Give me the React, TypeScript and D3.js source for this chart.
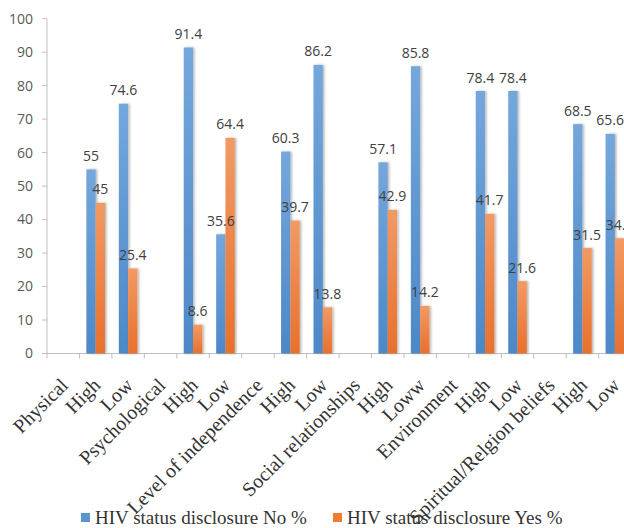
import React, { useEffect, useRef } from 'react';
import * as d3 from 'd3';

const categories = [
  'Physical', 'High', 'Low',
  'Psychological', 'High', 'Low',
  'Level of independence', 'High', 'Low',
  'Social relationships', 'High', 'Loww',
  'Environment', 'High', 'Low',
  'Spiritual/Relgion beliefs', 'High', 'Low',
];
// null = group header row, no bars
const disclosureNo: (number | null)[] = [
  null, 55, 74.6, null, 91.4, 35.6, null, 60.3, 86.2,
  null, 57.1, 85.8, null, 78.4, 78.4, null, 68.5, 65.6,
];
const disclosureYes: (number | null)[] = [
  null, 45, 25.4, null, 8.6, 64.4, null, 39.7, 13.8,
  null, 42.9, 14.2, null, 41.7, 21.6, null, 31.5, 34.4,
];
const seriesNames = ['HIV status disclosure No %', 'HIV status disclosure Yes %'];
const yTicks = [0, 10, 20, 30, 40, 50, 60, 70, 80, 90, 100];

const width = 624;
const height = 528;

const App: React.FC = () => {
  const svgRef = useRef<SVGSVGElement>(null);

  useEffect(() => {
    const svg = d3.select(svgRef.current);
    svg.selectAll('*').remove();

    const x0 = 47;
    const band = 32.45;
    const yTop = 18.7;
    const yBottom = 353.5;

    const xScale = d3.scaleBand<number>()
      .domain(categories.map((_, i) => i))
      .range([x0, x0 + band * categories.length])
      .padding(0);

    const yScale = d3.scaleLinear().domain([0, 100]).range([yBottom, yTop]);

    const inner = d3.scaleBand<number>().domain([0, 1]).range([0, 18.6]).padding(0);

    const defs = svg.append('defs');
    const grads = [
      { id: 'gBlue', top: '#74a7dc', bottom: '#4d88c7' },
      { id: 'gOrange', top: '#f29a64', bottom: '#e8702c' },
    ];
    grads.forEach(g => {
      const lg = defs.append('linearGradient')
        .attr('id', g.id).attr('x1', 0).attr('y1', 0).attr('x2', 0).attr('y2', 1);
      lg.append('stop').attr('offset', '0%').attr('stop-color', g.top);
      lg.append('stop').attr('offset', '100%').attr('stop-color', g.bottom);
    });
    const f = defs.append('filter').attr('id', 'shadow')
      .attr('x', '-50%').attr('y', '-10%').attr('width', '200%').attr('height', '120%');
    f.append('feDropShadow')
      .attr('dx', 1.5).attr('dy', 0).attr('stdDeviation', 1)
      .attr('flood-color', '#000').attr('flood-opacity', 0.3);

    // Y axis
    const yAxis = svg.append('g');
    yAxis.append('line')
      .attr('x1', x0).attr('x2', x0)
      .attr('y1', yTop).attr('y2', yBottom)
      .attr('stroke', '#bfbfbf');
    yTicks.forEach(t => {
      yAxis.append('line')
        .attr('x1', x0 - 5).attr('x2', x0)
        .attr('y1', yScale(t)).attr('y2', yScale(t))
        .attr('stroke', '#bfbfbf');
      yAxis.append('text')
        .attr('x', 33).attr('y', yScale(t)).attr('dy', '0.35em')
        .attr('text-anchor', 'end')
        .style('font-family', '"Open Sans", sans-serif')
        .style('font-size', '14px')
        .style('fill', '#595959')
        .text(t);
    });

    // X axis
    const xAxis = svg.append('g');
    xAxis.append('line')
      .attr('x1', x0).attr('x2', width)
      .attr('y1', yBottom).attr('y2', yBottom)
      .attr('stroke', '#bfbfbf');
    d3.range(categories.length + 1).forEach(i => {
      const xx = x0 + band * i;
      xAxis.append('line')
        .attr('x1', xx).attr('x2', xx)
        .attr('y1', yBottom).attr('y2', yBottom + 5)
        .attr('stroke', '#bfbfbf');
    });
    categories.forEach((c, i) => {
      const cx = (xScale(i) || 0) + xScale.bandwidth() / 2;
      xAxis.append('text')
        .attr('transform', `translate(${cx + 6},${yBottom + 33}) rotate(-45)`)
        .attr('text-anchor', 'end')
        .style('font-family', '"Liberation Serif", "Times New Roman", serif')
        .style('font-size', '20px')
        .style('fill', '#333333')
        .text(c);
    });

    // Bars
    const seriesData = [disclosureNo, disclosureYes];
    const fills = ['url(#gBlue)', 'url(#gOrange)'];
    const barsG = svg.append('g');
    seriesData.forEach((vals, s) => {
      vals.forEach((v, i) => {
        if (v === null) return;
        const cx = (xScale(i) || 0) + xScale.bandwidth() / 2;
        const bx = cx - 9.3 + (inner(s) || 0);
        barsG.append('rect')
          .attr('x', bx)
          .attr('y', yScale(v))
          .attr('width', inner.bandwidth())
          .attr('height', yBottom - yScale(v))
          .attr('fill', fills[s])
          .attr('filter', 'url(#shadow)');
      });
    });
    // Data labels
    seriesData.forEach((vals, s) => {
      vals.forEach((v, i) => {
        if (v === null) return;
        const cx = (xScale(i) || 0) + xScale.bandwidth() / 2;
        const bx = cx - 9.3 + (inner(s) || 0) + inner.bandwidth() / 2;
        svg.append('text')
          .attr('x', bx)
          .attr('y', yScale(v) - 8.5)
          .attr('text-anchor', 'middle')
          .style('font-family', '"Open Sans", sans-serif')
          .style('font-size', '14px')
          .style('fill', '#404040')
          .text(v);
      });
    });

    // Legend
    const legendX = [81, 333];
    seriesNames.forEach((name, s) => {
      svg.append('rect')
        .attr('x', legendX[s]).attr('y', 513)
        .attr('width', 9).attr('height', 9)
        .attr('fill', s === 0 ? '#5b95d0' : '#ed7d31');
      svg.append('text')
        .attr('x', legendX[s] + 14).attr('y', 524)
        .style('font-family', '"Liberation Serif", "Times New Roman", serif')
        .style('font-size', '19px')
        .style('fill', '#333333')
        .text(name);
    });
  }, []);

  return (
    <svg
      ref={svgRef}
      width={width}
      height={height}
      style={{ position: 'absolute', left: 0, top: 0, background: '#fff' }}
    />
  );
};

export default App;
